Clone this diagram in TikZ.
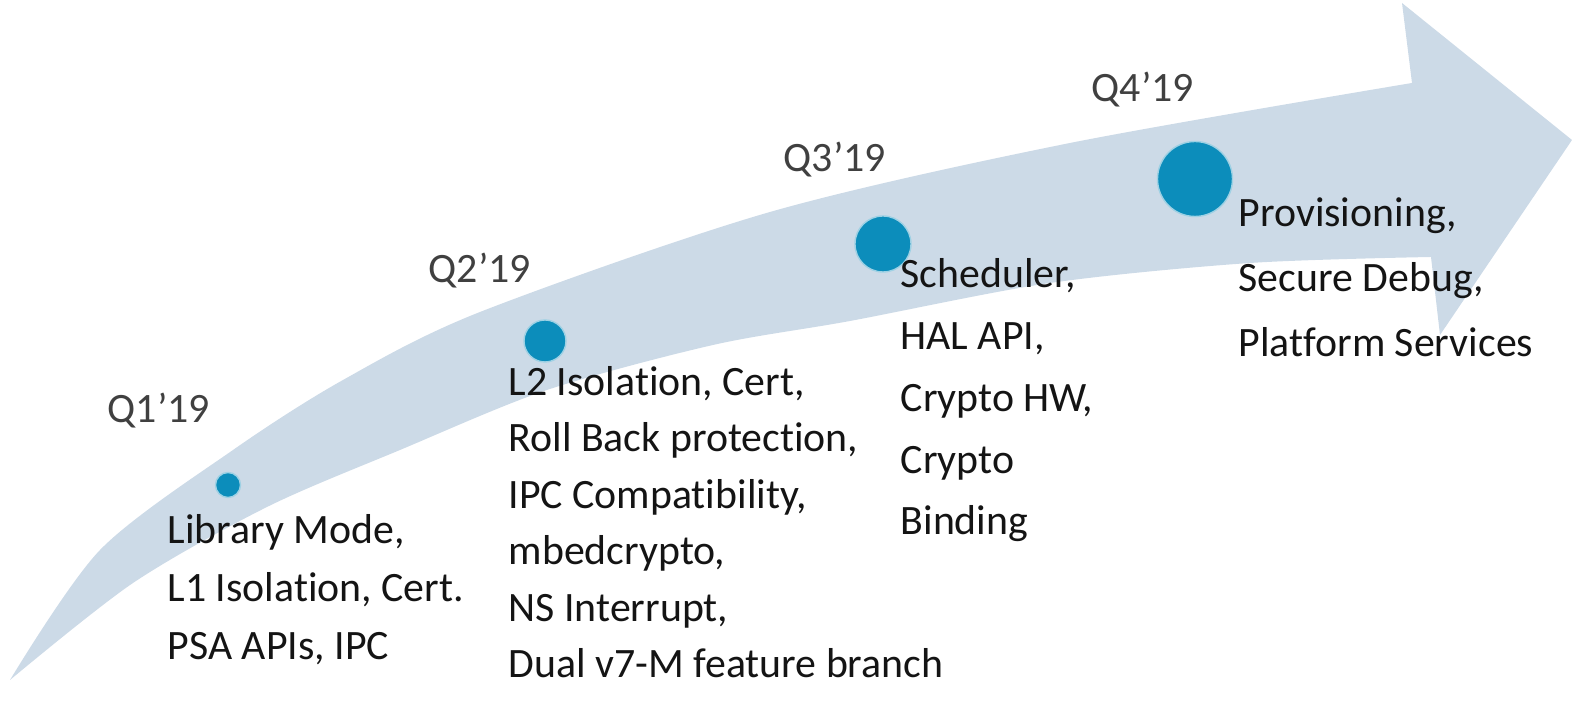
\documentclass[tikz,border=0pt]{standalone}
\usepackage{fontspec}
\setmainfont{Carlito}[Ligatures={NoCommon}]
\usepackage{tikz}

\definecolor{shaftblue}{RGB}{204,218,231}
\definecolor{dotblue}{RGB}{12,141,187}
\definecolor{labelgray}{RGB}{64,64,64}
\definecolor{itemblack}{RGB}{20,20,20}

\tikzset{
    dot/.style={circle, fill=dotblue, draw=dotblue!40!white, line width=0.4pt, inner sep=0pt},
    quarter/.style={anchor=base west, inner sep=0pt, text=labelgray, font=\fontsize{11.9}{14}\selectfont},
    items/.style={anchor=base west, inner sep=0pt, align=left, text=itemblack},
}

\begin{document}
\begin{tikzpicture}
    \useasboundingbox (0,0) rectangle (15.72,7.25);
    \fill[shaftblue] plot[smooth] coordinates {(0.10,0.45) (1.0,1.75) (2.33,2.75) (3.43,3.45) (4.8,4.13) (7.7,5.13) (10.7,5.82) (14.12,6.42)}
        -- (14.02,7.22) -- (15.72,5.85) -- (14.40,3.90) -- (14.31,4.68)
        -- plot[smooth] coordinates {(14.31,4.68) (12.5,4.62) (10.5,4.42) (8.5,4.04) (7.13,3.80) (5.47,3.35) (4.0,2.75) (2.67,2.18) (1.33,1.42) (0.10,0.45)} -- cycle;
    \foreach \n/\x/\y/\d in {1/2.28/2.40/0.25, 2/5.45/3.84/0.42, 3/8.83/4.81/0.56, 4/11.95/5.46/0.75}
        \node[dot, minimum size=\d cm] (dot\n) at (\x,\y) {};
    \node[quarter] (q1) at (1.07,3.02) {Q1’19};
    \node[quarter] (q2) at (4.28,4.42) {Q2’19};
    \node[quarter] (q3) at (7.83,5.53) {Q3’19};
    \node[quarter] (q4) at (10.91,6.23) {Q4’19};
    \node[items, font=\fontsize{11.9}{16.6}\selectfont] (items1) at (1.67,0.65)
        {Library Mode,\\L1 Isolation, Cert.\\PSA APIs, IPC};
    \node[items, font=\fontsize{11.9}{16.1}\selectfont] (items2) at (5.08,0.47)
        {L2 Isolation, Cert,\\Roll Back protection,\\IPC Compatibility,\\mbedcrypto,\\NS Interrupt,\\Dual v7-M feature branch};
    \node[items, font=\fontsize{11.9}{17.6}\selectfont] (items3) at (9.00,1.90)
        {Scheduler,\\HAL API,\\Crypto HW,\\Crypto\\Binding};
    \node[items, font=\fontsize{11.9}{18.5}\selectfont] (items4) at (12.38,3.68)
        {Provisioning,\\Secure Debug,\\Platform Services};
\end{tikzpicture}
\end{document}
